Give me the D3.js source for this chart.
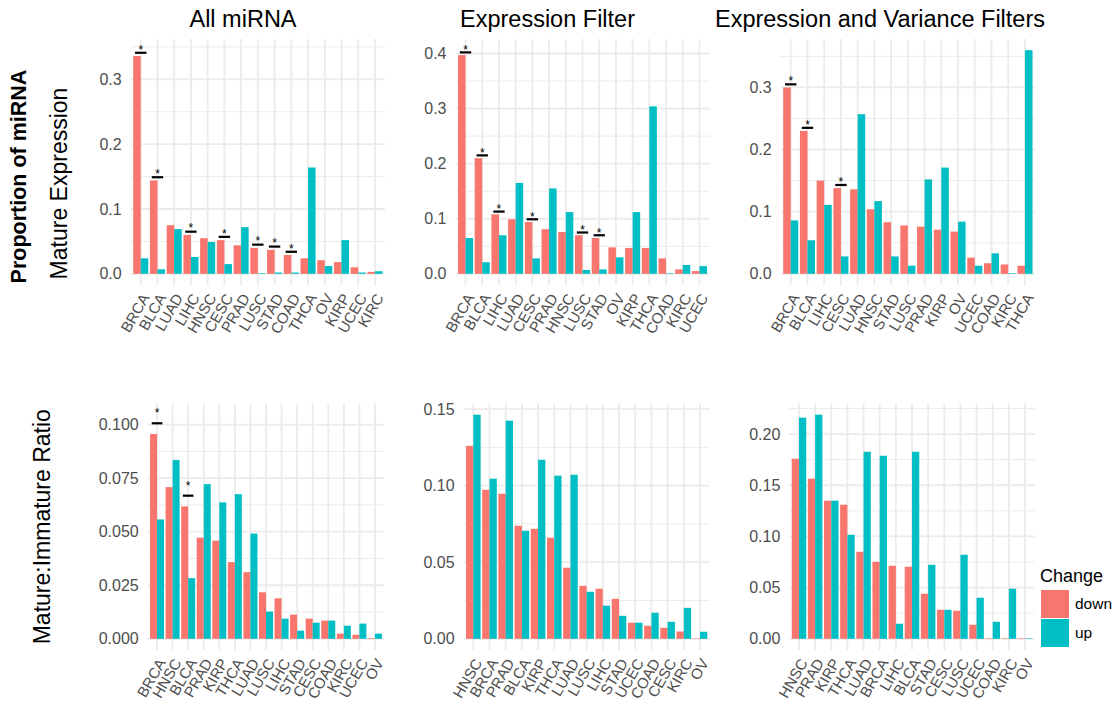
<!DOCTYPE html>
<html>
<head>
<meta charset="utf-8">
<script src="https://cdn.jsdelivr.net/npm/d3@7"></script>
<style>
  body { margin: 0; background: #fff; }
  svg { display: block; font-family: "Liberation Sans", Arial, Helvetica, sans-serif; }
</style>
</head>
<body>
<svg id="chart" width="1115" height="703"></svg>
<script>
// Mature expression, all miRNA
const allCats = ["BRCA", "BLCA", "LUAD", "LIHC", "HNSC", "CESC", "PRAD", "LUSC", "STAD", "COAD", "THCA", "OV", "KIRP", "UCEC", "KIRC"];
const allDown = [0.336, 0.144, 0.075, 0.060, 0.055, 0.052, 0.044, 0.040, 0.037, 0.029, 0.024, 0.021, 0.018, 0.010, 0.003];
const allUp = [0.024, 0.007, 0.069, 0.026, 0.049, 0.015, 0.072, 0.001, 0.002, 0.002, 0.164, 0.012, 0.052, 0.002, 0.004];
const allSig = ["BRCA", "BLCA", "LIHC", "CESC", "LUSC", "STAD", "COAD"];

// Mature expression, expression filter
const exprCats = ["BRCA", "BLCA", "LIHC", "LUAD", "CESC", "PRAD", "HNSC", "LUSC", "STAD", "OV", "KIRP", "THCA", "COAD", "KIRC", "UCEC"];
const exprDown = [0.397, 0.210, 0.108, 0.099, 0.094, 0.081, 0.076, 0.070, 0.065, 0.048, 0.047, 0.047, 0.028, 0.008, 0.005];
const exprUp = [0.065, 0.021, 0.070, 0.165, 0.028, 0.155, 0.112, 0.007, 0.008, 0.030, 0.112, 0.304, 0.001, 0.016, 0.014];
const exprSig = ["BRCA", "BLCA", "LIHC", "CESC", "LUSC", "STAD"];

// Mature expression, expression and variance filters
const varCats = ["BRCA", "BLCA", "LIHC", "CESC", "LUAD", "HNSC", "STAD", "LUSC", "PRAD", "KIRP", "OV", "UCEC", "COAD", "KIRC", "THCA"];
const varDown = [0.300, 0.230, 0.150, 0.138, 0.136, 0.104, 0.083, 0.078, 0.076, 0.071, 0.068, 0.026, 0.017, 0.015, 0.013];
const varUp = [0.086, 0.054, 0.111, 0.028, 0.257, 0.117, 0.028, 0.013, 0.152, 0.171, 0.084, 0.013, 0.033, 0.001, 0.360];
const varSig = ["BRCA", "BLCA", "CESC"];

// Mature:immature ratio, all miRNA
const ratioAllCats = ["BRCA", "HNSC", "BLCA", "PRAD", "KIRP", "THCA", "LUAD", "LUSC", "LIHC", "STAD", "CESC", "COAD", "KIRC", "UCEC", "OV"];
const ratioAllDown = [0.0956, 0.0708, 0.0618, 0.0472, 0.0458, 0.0358, 0.0311, 0.0217, 0.0189, 0.0113, 0.0094, 0.0085, 0.0024, 0.0019, 0.0003];
const ratioAllUp = [0.0557, 0.0835, 0.0283, 0.0722, 0.0637, 0.0675, 0.0491, 0.0127, 0.0094, 0.0038, 0.0075, 0.0085, 0.0061, 0.0071, 0.0024];
const ratioAllSig = ["BRCA", "BLCA"];

// Mature:immature ratio, expression filter
const ratioExprCats = ["HNSC", "BRCA", "PRAD", "BLCA", "KIRP", "THCA", "LUAD", "LUSC", "LIHC", "STAD", "UCEC", "COAD", "CESC", "KIRC", "OV"];
const ratioExprDown = [0.126, 0.0973, 0.0947, 0.0738, 0.0718, 0.066, 0.0464, 0.0346, 0.0327, 0.0261, 0.0105, 0.0085, 0.0072, 0.0048, 0.0003];
const ratioExprUp = [0.1463, 0.1045, 0.1424, 0.0705, 0.1169, 0.1065, 0.1071, 0.0307, 0.0216, 0.015, 0.0105, 0.017, 0.0111, 0.0202, 0.0046];
const ratioExprSig = [];

// Mature:immature ratio, expression and variance filters
const ratioVarCats = ["HNSC", "PRAD", "KIRP", "THCA", "LUAD", "BRCA", "LIHC", "BLCA", "STAD", "CESC", "LUSC", "UCEC", "COAD", "KIRC", "OV"];
const ratioVarDown = [0.1759, 0.1564, 0.1349, 0.131, 0.085, 0.0752, 0.0713, 0.0704, 0.044, 0.0283, 0.0274, 0.0137, 0.0005, 0.0005, 0.0005];
const ratioVarUp = [0.216, 0.2189, 0.1349, 0.1016, 0.1827, 0.1788, 0.0147, 0.1827, 0.0723, 0.0283, 0.0821, 0.0401, 0.0166, 0.0489, 0.0005];
const ratioVarSig = [];

const colTitles = ["All miRNA", "Expression Filter", "Expression and Variance Filters"];
const changeLevels = ["down", "up"];
const colors = { down: "#F8766D", up: "#00BFC4" };

const topTicks = [[0, 0.1, 0.2, 0.3], [0, 0.1, 0.2, 0.3, 0.4], [0, 0.1, 0.2, 0.3]];
const bottomTicks = [[0, 0.025, 0.05, 0.075, 0.1], [0, 0.05, 0.1, 0.15], [0, 0.05, 0.1, 0.15, 0.2]];

const svg = d3.select("#chart");

const rows = [
  { y0: 39, y1: 285, starGap: 0.0145 },
  { y0: 403.5, y1: 650, starGap: 0.011 }
];

const panels = [
  { cats: allCats, down: allDown, up: allUp, sig: allSig, ticks: topTicks[0], fmt: ".1f", x0: 130.7, x1: 385, row: 0 },
  { cats: exprCats, down: exprDown, up: exprUp, sig: exprSig, ticks: topTicks[1], fmt: ".1f", x0: 455.5, x1: 709.5, row: 0 },
  { cats: varCats, down: varDown, up: varUp, sig: varSig, ticks: topTicks[2], fmt: ".1f", x0: 780.7, x1: 1035, row: 0 },
  { cats: ratioAllCats, down: ratioAllDown, up: ratioAllUp, sig: ratioAllSig, ticks: bottomTicks[0], fmt: ".3f", x0: 147.7, x1: 384.3, row: 1 },
  { cats: ratioExprCats, down: ratioExprDown, up: ratioExprUp, sig: ratioExprSig, ticks: bottomTicks[1], fmt: ".2f", x0: 463.6, x1: 709.7, row: 1 },
  { cats: ratioVarCats, down: ratioVarDown, up: ratioVarUp, sig: ratioVarSig, ticks: bottomTicks[2], fmt: ".2f", x0: 789.3, x1: 1034.7, row: 1 }
];

function drawPanel(p) {
  const row = rows[p.row];
  const g = svg.append("g");

  const x = d3.scalePoint().domain(p.cats).range([p.x0, p.x1]).padding(0.6);
  const step = x.step();
  const bw = step * 0.45;

  const sigTops = p.sig.map((c) => p.down[p.cats.indexOf(c)] + 0.009);
  const M = d3.max([...p.down, ...p.up, ...sigTops]);
  const y = d3.scaleLinear().domain([-0.05 * M, 1.05 * M]).range([row.y1, row.y0]);

  // grid
  const tstep = p.ticks[1] - p.ticks[0];
  const minor = p.ticks.map((t) => t + tstep / 2).filter((t) => t <= y.domain()[1]);
  g.selectAll(".minor")
    .data(minor)
    .enter()
    .append("line")
    .attr("x1", p.x0)
    .attr("x2", p.x1)
    .attr("y1", (d) => y(d))
    .attr("y2", (d) => y(d))
    .attr("stroke", "#EBEBEB")
    .attr("stroke-width", 1);
  g.selectAll(".major")
    .data(p.ticks)
    .enter()
    .append("line")
    .attr("x1", p.x0)
    .attr("x2", p.x1)
    .attr("y1", (d) => y(d))
    .attr("y2", (d) => y(d))
    .attr("stroke", "#EBEBEB")
    .attr("stroke-width", 1.8);
  g.selectAll(".vgrid")
    .data(p.cats)
    .enter()
    .append("line")
    .attr("x1", (d) => x(d))
    .attr("x2", (d) => x(d))
    .attr("y1", row.y0)
    .attr("y2", row.y1)
    .attr("stroke", "#EBEBEB")
    .attr("stroke-width", 1.8);

  // bars
  const bars = [];
  p.cats.forEach((c, i) => {
    bars.push({ c: c, k: "down", v: p.down[i] });
    bars.push({ c: c, k: "up", v: p.up[i] });
  });
  g.selectAll(".bar")
    .data(bars)
    .enter()
    .append("rect")
    .attr("x", (d) => (d.k === "down" ? x(d.c) - bw : x(d.c)))
    .attr("y", (d) => y(d.v))
    .attr("width", bw)
    .attr("height", (d) => y(0) - y(d.v))
    .attr("fill", (d) => colors[d.k]);

  // significance marks
  g.selectAll(".seg")
    .data(p.sig)
    .enter()
    .append("line")
    .attr("x1", (d) => x(d) - step * 0.34)
    .attr("x2", (d) => x(d) + step * 0.34)
    .attr("y1", (d) => y(p.down[p.cats.indexOf(d)] + 0.005))
    .attr("y2", (d) => y(p.down[p.cats.indexOf(d)] + 0.005))
    .attr("stroke", "#000")
    .attr("stroke-width", 2.2);
  g.selectAll(".star")
    .data(p.sig)
    .enter()
    .append("text")
    .attr("x", (d) => x(d))
    .attr("y", (d) => y(p.down[p.cats.indexOf(d)] + row.starGap))
    .attr("dy", "0.58em")
    .attr("text-anchor", "middle")
    .style("font-size", "12px")
    .style("fill", "#000")
    .text("*");

  // axes
  const ya = g.append("g")
    .attr("transform", `translate(${p.x0},0)`)
    .call(d3.axisLeft(y).tickValues(p.ticks).tickFormat(d3.format(p.fmt)).tickSize(0).tickPadding(9));
  ya.select(".domain").remove();
  ya.selectAll("text").style("font-size", "16px").style("fill", "#4D4D4D").attr("font-family", null);

  const xa = g.append("g")
    .attr("transform", `translate(0,${row.y1})`)
    .call(d3.axisBottom(x).tickSize(0));
  xa.select(".domain").remove();
  xa.selectAll("text")
    .attr("x", 0)
    .attr("y", 0)
    .attr("dy", "0.6em")
    .attr("text-anchor", "end")
    .attr("transform", "translate(1,8) rotate(-60)")
    .attr("font-family", null)
    .style("font-size", "15px")
    .style("fill", "#4D4D4D");
}

panels.forEach(drawPanel);

// column titles
const titleX = [243, 547.5, 880];
svg.selectAll(".coltitle")
  .data(colTitles)
  .enter()
  .append("text")
  .attr("x", (d, i) => titleX[i])
  .attr("y", 27)
  .attr("text-anchor", "middle")
  .style("font-size", "23.5px")
  .style("fill", "#000")
  .text((d) => d);

// row titles
svg.append("text")
  .attr("transform", "translate(25.5,176.5) rotate(-90)")
  .attr("text-anchor", "middle")
  .style("font-size", "21.5px")
  .style("font-weight", "bold")
  .text("Proportion of miRNA");
svg.append("text")
  .attr("transform", "translate(66.5,183.5) rotate(-90)")
  .attr("text-anchor", "middle")
  .style("font-size", "23px")
  .text("Mature Expression");
svg.append("text")
  .attr("transform", "translate(49.5,526.7) rotate(-90)")
  .attr("text-anchor", "middle")
  .style("font-size", "23px")
  .text("Mature:Immature Ratio");

// legend
const legend = svg.append("g").attr("transform", "translate(1040,0)");
legend.append("text").attr("x", 0).attr("y", 582).style("font-size", "18px").text("Change");
const keys = legend.selectAll(".key").data(changeLevels).enter().append("g")
  .attr("transform", (d, i) => `translate(1,${590 + i * 29})`);
keys.append("rect").attr("width", 28).attr("height", 28).attr("fill", (d) => colors[d]);
keys.append("text")
  .attr("x", 34)
  .attr("y", 14)
  .attr("dy", "0.35em")
  .style("font-size", "15.5px")
  .text((d) => d);
</script>
</body>
</html>
